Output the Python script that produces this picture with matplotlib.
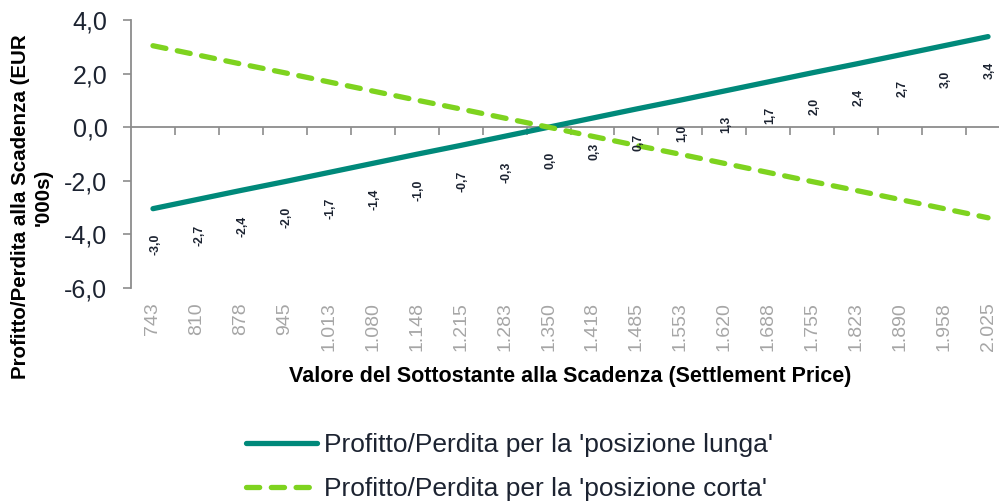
import matplotlib
matplotlib.use("Agg")
import matplotlib.pyplot as plt
from matplotlib.ticker import FuncFormatter, FixedLocator, NullFormatter

plt.rcParams['font.family'] = ['Liberation Sans', 'DejaVu Sans']

categories = ["743", "810", "878", "945", "1.013", "1.080", "1.148", "1.215", "1.283", "1.350",
              "1.418", "1.485", "1.553", "1.620", "1.688", "1.755", "1.823", "1.890", "1.958", "2.025"]
long_pl = [-3.04, -2.70, -2.36, -2.03, -1.69, -1.35, -1.01, -0.68, -0.34, 0.00,
           0.34, 0.68, 1.01, 1.35, 1.69, 2.03, 2.36, 2.70, 3.04, 3.38]
short_pl = [3.04, 2.70, 2.36, 2.03, 1.69, 1.35, 1.01, 0.68, 0.34, 0.00,
            -0.34, -0.68, -1.01, -1.35, -1.69, -2.03, -2.36, -2.70, -3.04, -3.38]
long_value_labels = ["-3,0", "-2,7", "-2,4", "-2,0", "-1,7", "-1,4", "-1,0", "-0,7", "-0,3", "0,0",
                     "0,3", "0,7", "1,0", "1,3", "1,7", "2,0", "2,4", "2,7", "3,0", "3,4"]
long_label = "Profitto/Perdita per la 'posizione lunga'"
short_label = "Profitto/Perdita per la 'posizione corta'"

TEAL = "#00897a"
LIME = "#7ed31f"
AXIS_GREY = "#8c8c8c"
TICK_GREY = "#a6a6a6"
DARK = "#1c2331"

fig = plt.figure(figsize=(9.99, 5.01), dpi=100)
ax = fig.add_axes([131/999, 1 - 288/501, 879/999, 268/501])

x = list(range(len(categories)))
ax.plot(x, long_pl, color=TEAL, lw=3.8, solid_capstyle='round', label=long_label, zorder=3)
ax.plot(x, short_pl, color=LIME, lw=3.8, dashes=(2.5, 2.2), dash_capstyle='round',
        label=short_label, zorder=3)

for xi, v, t in zip(x, long_pl, long_value_labels):
    ax.annotate(t, (xi, v), xytext=(1.5, -18), textcoords='offset points',
                rotation=90, ha='center', va='top', fontsize=8.8, fontweight='bold', color=DARK)

ax.set_xlim(-0.5, len(categories) - 0.5)
ax.set_ylim(-6, 4)
ax.set_yticks([-6, -4, -2, 0, 2, 4])
ax.yaxis.set_major_formatter(FuncFormatter(lambda v, p: f"{v:.1f}".replace('.', ',')))
ax.tick_params(axis='y', direction='out', length=6, width=1.2, color=AXIS_GREY,
               labelsize=18, labelcolor=DARK, pad=11)

for s in ['top', 'right']:
    ax.spines[s].set_visible(False)
ax.spines['left'].set_color(AXIS_GREY)
ax.spines['left'].set_linewidth(1.3)
ax.spines['bottom'].set_position(('data', 0))
ax.spines['bottom'].set_color(AXIS_GREY)
ax.spines['bottom'].set_linewidth(1.3)
ax.xaxis.set_major_locator(FixedLocator([i + 0.5 for i in x]))
ax.xaxis.set_major_formatter(NullFormatter())
ax.tick_params(axis='x', direction='out', length=6, width=1.2, color=AXIS_GREY)

sec = ax.secondary_xaxis(0)
sec.set_xticks(x)
sec.set_xticklabels(categories, rotation=90, va='top')
sec.tick_params(length=0, labelsize=14, labelcolor=TICK_GREY, pad=10)
sec.spines['bottom'].set_visible(False)
sec.set_xlabel("Valore del Sottostante alla Scadenza (Settlement Price)", fontsize=15.5,
               fontweight='bold', color='black', labelpad=11)

fig.text(21/999, 1 - 207/501, "Profitto/Perdita alla Scadenza (EUR", rotation=90, ha='center',
         va='center', fontsize=14.8, fontweight='bold', color='black')
fig.text(43/999, 1 - 197/501, "'000s)", rotation=90, ha='center', va='center', fontsize=14.8,
         fontweight='bold', color='black')

leg = fig.legend(loc='center', bbox_to_anchor=(0.51, 0.068), frameon=False, fontsize=19,
                 handlelength=2.7, handletextpad=0.25, labelspacing=0.75, labelcolor=DARK)

fig.savefig("out.png", dpi=100)
